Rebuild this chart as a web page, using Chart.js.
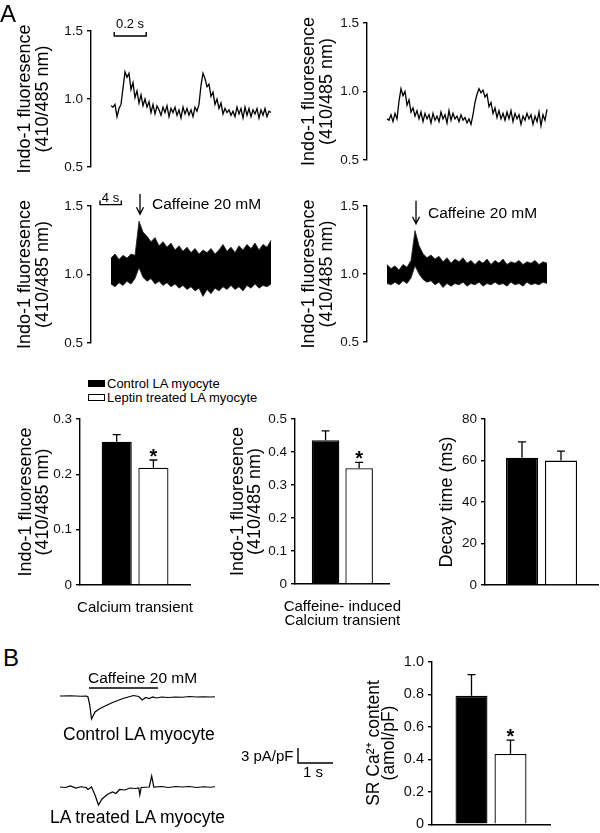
<!DOCTYPE html>
<html><head><meta charset="utf-8">
<script src="https://cdn.jsdelivr.net/npm/chart.js@4.4.1/dist/chart.umd.min.js"></script>
<style>
html,body{margin:0;padding:0;background:#fff;width:600px;height:833px;overflow:hidden;font-family:"Liberation Sans",Arial,sans-serif;color:#000;position:relative}
.lbl{position:absolute;white-space:nowrap;line-height:1}
</style></head><body>
<script>
// ---------------- DATA ----------------
// Panel A top: Indo-1 ratio traces (sampled every 0.0125 s)
const tlDt = 0.0125;
const tlRatio = [0.95,0.94,0.96,0.87,0.93,0.96,1.08,1.20,1.16,1.19,
1.07,1.12,1.01,1.06,0.97,1.03,0.95,1.00,0.94,0.98,
0.90,0.96,0.89,0.95,0.92,0.88,0.94,0.90,0.95,0.87,
0.93,0.90,0.94,0.88,0.92,0.86,0.94,0.89,0.93,0.88,
0.92,0.87,0.94,0.91,0.96,1.10,1.19,1.15,1.09,1.11,
1.02,1.05,0.96,1.00,0.93,0.97,0.89,0.93,0.90,0.92,
0.88,0.91,0.87,0.94,0.89,0.93,0.86,0.94,0.88,0.93,
0.87,0.92,0.89,0.93,0.86,0.92,0.88,0.93,0.87,0.91,0.90];
const trRatio = [0.80,0.79,0.83,0.78,0.84,0.80,0.93,1.02,0.97,1.00,
0.90,0.94,0.85,0.88,0.82,0.86,0.80,0.85,0.78,0.84,
0.80,0.83,0.77,0.84,0.79,0.82,0.78,0.85,0.80,0.83,
0.77,0.86,0.79,0.84,0.80,0.82,0.78,0.83,0.79,0.81,
0.77,0.80,0.76,0.83,0.92,0.98,1.02,0.99,1.01,0.96,
0.98,0.89,0.92,0.84,0.88,0.81,0.86,0.80,0.84,0.79,
0.85,0.80,0.86,0.78,0.84,0.80,0.83,0.76,0.82,0.79,
0.84,0.80,0.83,0.76,0.82,0.78,0.85,0.75,0.83,0.79,0.87];
// Panel A middle: caffeine traces, noise envelope (upper / lower), every 0.75 s
const cafDt = 0.75;
const blUpper = [1.12,1.15,1.11,1.14,1.12,1.15,1.14,1.39,1.31,1.28,
1.24,1.27,1.21,1.24,1.20,1.23,1.18,1.21,1.17,1.20,
1.16,1.19,1.15,1.18,1.16,1.19,1.15,1.18,1.22,1.17,
1.20,1.16,1.21,1.18,1.22,1.19,1.23,1.18,1.22,1.20,1.25];
const blLower = [0.93,0.91,0.94,0.92,0.95,0.93,0.97,1.05,0.98,0.95,
0.97,0.93,0.95,0.92,0.94,0.91,0.93,0.90,0.92,0.89,
0.91,0.88,0.90,0.84,0.89,0.86,0.90,0.88,0.91,0.89,
0.92,0.89,0.91,0.88,0.92,0.90,0.93,0.90,0.92,0.91,0.93];
const brUpper = [1.07,1.04,1.06,1.03,1.07,1.05,1.10,1.32,1.21,1.15,
1.12,1.14,1.11,1.13,1.09,1.12,1.08,1.11,1.09,1.12,
1.08,1.10,1.07,1.10,1.08,1.11,1.07,1.10,1.08,1.11,
1.07,1.09,1.08,1.10,1.07,1.09,1.08,1.10,1.07,1.09,1.08];
const brLower = [0.93,0.92,0.94,0.92,0.95,0.93,0.97,1.06,1.00,0.96,
0.94,0.95,0.92,0.94,0.90,0.93,0.91,0.93,0.92,0.94,
0.91,0.93,0.92,0.94,0.91,0.93,0.92,0.94,0.92,0.93,
0.91,0.94,0.92,0.93,0.91,0.94,0.92,0.93,0.92,0.94,0.93];
const caffeineTime = 5.44;          // s, arrow position
const blArrow = [1.60, 1.44];       // ratio, arrow top / tip
const brArrow = [1.54, 1.37];

// Panel A bottom: bar charts
const groups = ['Control LA myocyte', 'Leptin treated LA myocyte'];
const groupFill = ['#000000', '#ffffff'];
const caTransient = [0.259, 0.212], caTransientErr = [0.013, 0.014], caTransientSig = [false, true];
const caffTransient = [0.436, 0.351], caffTransientErr = [0.028, 0.018], caffTransientSig = [false, true];
const decayTime = [61.4, 60.0], decayTimeErr = [7.6, 4.6], decayTimeSig = [false, false];
// Panel B
const srContent = [0.79, 0.433], srContentErr = [0.13, 0.085], srContentSig = [false, true];
const controlT = [0,0.3,0.6,0.75,0.8,0.85,0.9,0.95,1.0,1.1,1.2,1.35,1.5,1.65,1.8,1.95,2.1,2.25,2.35,2.45,2.55,2.65,2.75,2.9,3.1,3.3,3.5,3.7,3.9,4.1,4.3,4.43];
const controlI = [0,0.05,-0.05,0,-0.2,-1.8,-4.6,-3.9,-3.2,-2.7,-2.3,-1.8,-1.3,-0.9,-0.5,-0.2,0.1,-0.1,-0.8,-0.3,-0.5,-0.2,-0.4,-0.2,-0.3,-0.2,-0.25,-0.1,-0.2,-0.15,-0.2,-0.15];
const treatedT = [0,0.15,0.3,0.45,0.6,0.75,0.8,0.9,1.0,1.1,1.2,1.35,1.5,1.6,1.7,1.85,2.0,2.15,2.25,2.28,2.32,2.55,2.62,2.68,2.9,3.1,3.3,3.5,3.7,3.9,4.1,4.3,4.43];
const treatedI = [0,-0.1,0.2,-0.2,0.05,-0.1,-0.5,0.0,-1.6,-3.6,-2.4,-1.5,-1.0,-1.3,-0.5,-0.6,-0.2,-0.3,-0.2,-1.6,-0.1,0.0,2.2,0.0,0.1,-0.1,0.1,0.0,0.1,-0.1,0.05,-0.05,0.05];
const caffeineApplied = [0.83, 2.8];   // s
// scale bars: [x0, y0, dx, dy]
const tlScaleBar = [0.02, 1.464, 0.2, 0.03];   // 0.2 s
const blScaleBar = [-2.06, 1.511, 4, 0.03];    // 4 s
const bScaleBar = [6.8, -13.4, 1, 3];          // 1 s, 3 pA/pF

// ---------------- HELPERS ----------------
Chart.defaults.font.family = '"Liberation Sans", Arial, sans-serif';
Chart.defaults.color = '#000';
Chart.defaults.animation = false;

function mkCanvas(left, top, w, h) {
  const c = document.createElement('canvas');
  c.width = w; c.height = h;
  c.style.cssText = `position:absolute;left:${left}px;top:${top}px;width:${w}px;height:${h}px`;
  document.body.appendChild(c);
  return c;
}
function txt(text, x, cy, size, center) {
  const d = document.createElement('div');
  d.className = 'lbl';
  d.textContent = text;
  d.style.left = x + 'px'; d.style.top = cy + 'px'; d.style.fontSize = size + 'px';
  d.style.transform = center ? 'translate(-50%,-50%)' : 'translateY(-50%)';
  document.body.appendChild(d);
}
const series = (dt, vals) => vals.map((v, i) => ({x: i * dt, y: v}));
const xy = (xs, ys) => xs.map((x, i) => ({x, y: ys[i]}));
const fmt1 = v => (Math.abs(v) < 1e-9 ? '0' : v.toFixed(1));

function yAxis(o) {
  return {
    type: 'linear', position: 'left', min: o.min, max: o.max,
    afterFit: s => { s.width = o.width; },
    ticks: {stepSize: o.step, padding: 4, font: {size: o.tickSize || 13.5}, color: '#111', callback: o.fmt},
    grid: {drawOnChartArea: false, drawTicks: true, tickLength: 4, color: '#000', lineWidth: 1.4},
    border: {display: true, color: '#000', width: 1.4},
    title: {display: true, text: o.title, color: '#000',
      font: {size: o.titleSize || 18, lineHeight: o.titleLH || 1.0}, padding: {top: o.titlePad, bottom: 0}}
  };
}
function scaleBarData(b, up) {
  const [x0, y0, dx, dy] = b;
  return up ? [{x: x0, y: y0 + dy}, {x: x0, y: y0}, {x: x0 + dx, y: y0}, {x: x0 + dx, y: y0 + dy}]
            : [{x: x0, y: y0 + dy}, {x: x0, y: y0}, {x: x0 + dx, y: y0}];
}
function arrowPlugin(t, arr) {
  return {id: 'arrowMark', afterDatasetsDraw(chart) {
    const ctx = chart.ctx, x = chart.scales.x.getPixelForValue(t);
    const y1 = chart.scales.y.getPixelForValue(arr[0]), y2 = chart.scales.y.getPixelForValue(arr[1]);
    ctx.save(); ctx.strokeStyle = '#000'; ctx.lineWidth = 1.3;
    ctx.beginPath(); ctx.moveTo(x, y1); ctx.lineTo(x, y2);
    ctx.moveTo(x - 3.5, y2 - 7); ctx.lineTo(x, y2); ctx.lineTo(x + 3.5, y2 - 7); ctx.stroke();
    ctx.restore();
  }};
}
function traceChart(canvas, datasets, yo, xmin, xmax, plugins) {
  return new Chart(canvas, {
    type: 'line', data: {datasets},
    options: {
      responsive: false, animation: false, devicePixelRatio: 1,
      layout: {padding: {top: 10, bottom: 10, left: 0, right: 10}},
      plugins: {legend: {display: false}, tooltip: {enabled: false}},
      elements: {point: {radius: 0}, line: {tension: 0}},
      scales: {x: {type: 'linear', display: false, min: xmin, max: xmax}, y: yAxis(yo)}
    },
    plugins: plugins || []
  });
}
const lineDs = (data, w, extra) => Object.assign({data, borderColor: '#000', borderWidth: w, fill: false}, extra || {});

const errPlugin = {id: 'errBars', afterDatasetsDraw(chart) {
  const ctx = chart.ctx, ys = chart.scales.y;
  ctx.save(); ctx.strokeStyle = '#000'; ctx.fillStyle = '#000'; ctx.lineWidth = 1.3;
  chart.data.datasets.forEach((ds, i) => {
    const bar = chart.getDatasetMeta(i).data[0];
    const top = ys.getPixelForValue(ds.data[0] + ds.err);
    ctx.beginPath(); ctx.moveTo(bar.x, bar.y); ctx.lineTo(bar.x, top);
    ctx.moveTo(bar.x - 4, top); ctx.lineTo(bar.x + 4, top); ctx.stroke();
    if (ds.sig) {
      ctx.font = 'bold 20px "Liberation Sans", Arial, sans-serif';
      ctx.textAlign = 'center'; ctx.textBaseline = 'alphabetic';
      ctx.fillText('*', bar.x, top + 3);
    }
  });
  ctx.restore();
}};
function barChart(canvas, o) {
  const axisW = canvas.width - o.yWidth - o.padRight;
  return new Chart(canvas, {
    type: 'bar',
    data: {labels: [o.label], datasets: groups.map((g, i) => ({
      label: g, data: [o.values[i]], err: o.errs[i], sig: o.sig[i],
      backgroundColor: groupFill[i], borderColor: '#000', borderWidth: 1.3, borderSkipped: 'bottom',
      barPercentage: 0.82, categoryPercentage: 78 / axisW}))},
    options: {
      responsive: false, animation: false, devicePixelRatio: 1,
      layout: {padding: {top: 10, bottom: 0, left: 0, right: o.padRight}},
      plugins: {legend: {display: false}, tooltip: {enabled: false}},
      scales: {
        x: {type: 'category', offset: true, afterFit: s => { s.height = o.xHeight; },
          grid: {display: false}, border: {display: true, color: '#000', width: 1.4},
          ticks: {padding: 8, font: {size: 15, lineHeight: 0.93}, color: '#000', maxRotation: 0, autoSkip: false}},
        y: yAxis(o.y)
      }
    },
    plugins: [errPlugin]
  });
}

// ---------------- PANEL A: traces ----------------
const fluoTitle = ['Indo-1 fluoresence', '(410/485 nm)'];
traceChart(mkCanvas(0, 19, 300, 160), [
  lineDs(series(tlDt, tlRatio), 1.3),
  lineDs(scaleBarData(tlScaleBar, true), 1.4)
], {min: 0.5, max: 1.5, step: 0.5, width: 91, title: fluoTitle, titlePad: 16, fmt: fmt1},
  -20 / 160, 179 / 160);

traceChart(mkCanvas(300, 11, 290, 161), [
  lineDs(series(tlDt, trRatio), 1.3)
], {min: 0.5, max: 1.5, step: 0.5, width: 67, title: fluoTitle, titlePad: 0.5, fmt: fmt1},
  -20 / 160, 193 / 160);

const cafPx = 160 / 30;
traceChart(mkCanvas(0, 194, 300, 161), [
  lineDs(series(cafDt, blLower), 0.8, {backgroundColor: '#000', borderColor: '#222'}),
  lineDs(series(cafDt, blUpper), 0.8, {backgroundColor: '#000', borderColor: '#222', fill: '-1'}),
  lineDs(scaleBarData(blScaleBar, true), 1.4, {clip: false})
], {min: 0.5, max: 1.5, step: 0.5, width: 91, title: fluoTitle, titlePad: 16, fmt: fmt1},
  -20 / cafPx, 179 / cafPx, [arrowPlugin(caffeineTime, blArrow)]);

traceChart(mkCanvas(300, 194, 290, 160), [
  lineDs(series(cafDt, brLower), 0.8, {backgroundColor: '#000', borderColor: '#222'}),
  lineDs(series(cafDt, brUpper), 0.8, {backgroundColor: '#000', borderColor: '#222', fill: '-1'})
], {min: 0.5, max: 1.5, step: 0.5, width: 67, title: fluoTitle, titlePad: 0.5, fmt: fmt1},
  -20 / cafPx, 193 / cafPx, [arrowPlugin(caffeineTime, brArrow)]);

// ---------------- PANEL A: bars ----------------
const bar1 = barChart(mkCanvas(0, 407, 205, 218), {
  label: 'Calcium transient', values: caTransient, errs: caTransientErr, sig: caTransientSig,
  yWidth: 80, padRight: 8, xHeight: 40,
  y: {min: 0, max: 0.3, step: 0.1, width: 80, title: fluoTitle, titlePad: 17.5, titleLH: 0.95, fmt: fmt1}
});
barChart(mkCanvas(210, 407, 203, 227), {
  label: ['Caffeine- induced', 'Calcium transient'], values: caffTransient, errs: caffTransientErr, sig: caffTransientSig,
  yWidth: 85, padRight: 8, xHeight: 50,
  y: {min: 0, max: 0.5, step: 0.1, width: 85, title: fluoTitle, titlePad: 19.3, titleLH: 0.95, fmt: fmt1}
});
barChart(mkCanvas(415, 407, 185, 218), {
  label: '', values: decayTime, errs: decayTimeErr, sig: decayTimeSig,
  yWidth: 70, padRight: 2, xHeight: 40,
  y: {min: 0, max: 80, step: 20, width: 70, title: 'Decay time (ms)', titlePad: 22.7, fmt: v => String(v)}
});

// legend built from the first bar chart's datasets
bar1.data.datasets.forEach((ds, i) => {
  const row = document.createElement('div');
  row.style.cssText = `position:absolute;left:88px;top:${376 + i * 14}px;height:14px;display:flex;align-items:center;font-size:13px;white-space:nowrap;line-height:1`;
  const box = document.createElement('span');
  box.style.cssText = `display:inline-block;width:17px;height:7px;box-sizing:border-box;background:${ds.backgroundColor};border:1.3px solid #000;margin-right:2px`;
  row.appendChild(box); row.appendChild(document.createTextNode(ds.label));
  document.body.appendChild(row);
});

// ---------------- PANEL B ----------------
new Chart(mkCanvas(40, 670, 310, 140), {
  type: 'line',
  data: {datasets: [
    lineDs(xy(controlT, controlI), 1.2, {yAxisID: 'yC'}),
    lineDs(xy(treatedT, treatedI), 1.2, {yAxisID: 'yT'}),
    lineDs([{x: caffeineApplied[0], y: 1.6}, {x: caffeineApplied[1], y: 1.6}], 1.6, {yAxisID: 'yC'}),
    lineDs(scaleBarData(bScaleBar, false), 1.4, {yAxisID: 'yC'})
  ]},
  options: {
    responsive: false, animation: false, devicePixelRatio: 1,
    layout: {padding: 0},
    plugins: {legend: {display: false}, tooltip: {enabled: false}},
    elements: {point: {radius: 0}, line: {tension: 0}},
    scales: {
      x: {type: 'linear', display: false, min: -20 / 35, max: 290 / 35},
      yC: {type: 'linear', display: false, min: -22.8, max: 5.2},
      yT: {type: 'linear', display: false, min: -4.6, max: 23.4}
    }
  }
});
barChart(mkCanvas(355, 649, 200, 188), {
  label: '', values: srContent, errs: srContentErr, sig: srContentSig,
  yWidth: 77, padRight: 5, xHeight: 10,
  y: {min: 0, max: 1.0, step: 0.2, width: 77, title: ['SR Ca\u00B2\u207A content', '(amol/pF)'],
      titlePad: 11.5, titleSize: 17.5, titleLH: 0.88, tickSize: 14.5, fmt: fmt1}
});

// ---------------- free text ----------------
txt('A', 0, 13.5, 24);
txt('0.2 s', 130, 23, 13, true);
txt('4 s', 110.5, 197, 13, true);
txt('Caffeine 20 mM', 152, 204, 15.5);
txt('Caffeine 20 mM', 428, 213, 15.5);
txt('B', 3, 658, 24);
txt('Caffeine 20 mM', 88, 678, 15.5);
txt('Control LA myocyte', 63, 735, 17.5);
txt('3 pA/pF', 241, 754.5, 15);
txt('1 s', 313, 771, 15, true);
txt('LA treated LA myocyte', 50, 817.5, 17.5);
</script>
</body></html>
